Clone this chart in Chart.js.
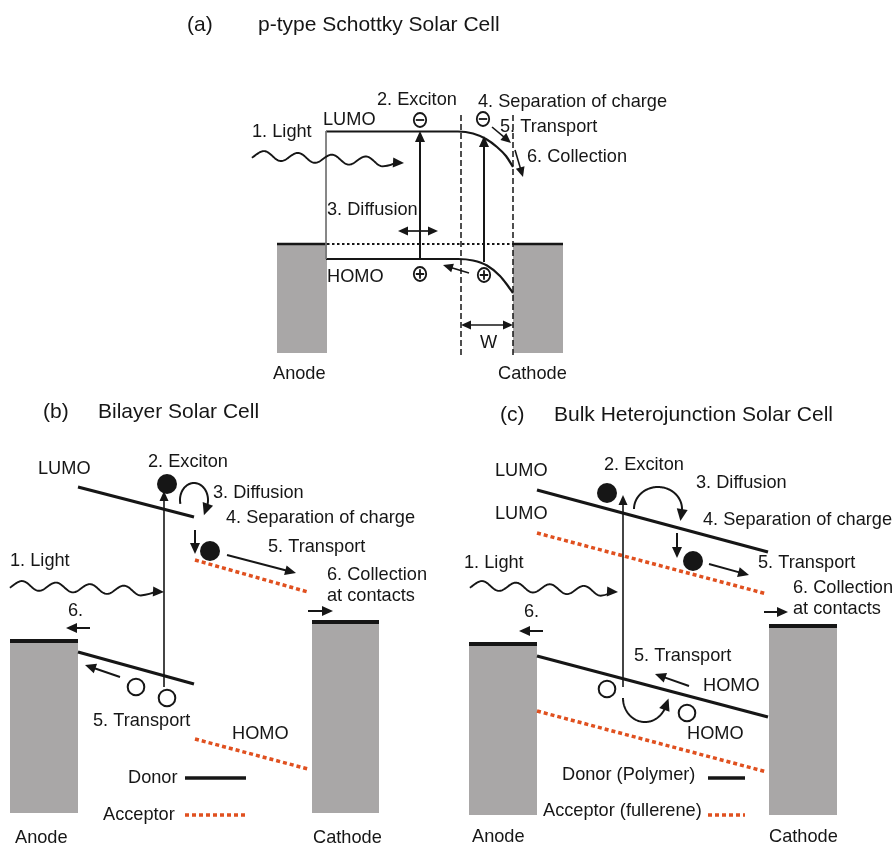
<!DOCTYPE html>
<html>
<head>
<meta charset="utf-8">
<title>Organic solar cell operating principles</title>
<script src="https://cdn.jsdelivr.net/npm/chart.js@4/dist/chart.umd.min.js"></script>
<style>
  html, body { margin: 0; padding: 0; background: #ffffff; }
  #wrap { width: 896px; height: 846px; position: relative; }
</style>
</head>
<body>
<div id="wrap"><canvas id="diagram"></canvas></div>
<script>
// ---- Scene values (diagram units, x to the right, y downwards) ----

// Panel headings: [tag, title, xTag, xTitle, y]
const panelTitles = [
  ["(a)", "p-type Schottky Solar Cell", 187, 258, 25],
  ["(b)", "Bilayer Solar Cell", 43, 98, 412],
  ["(c)", "Bulk Heterojunction Solar Cell", 500, 554, 415]
];

// Electrodes: [x0, y0, x1, y1]
const electrodes = [
  [277, 244, 327, 353], [513, 244, 563, 353],
  [10, 641, 78, 813],   [312, 622, 379, 813],
  [469, 644, 537, 815], [769, 626, 837, 815]
];
// Electrode contact surfaces: [x0, x1, y]
const contactsThin  = [[277, 327, 244], [513, 563, 244]];
const contactsThick = [[10, 78, 641], [312, 379, 622], [469, 537, 644], [769, 837, 626]];

// Schottky cell bands (a): band bending towards the cathode
const schottkyLumoX = [326, 458, 473, 486, 497, 506, 513];
const schottkyLumoY = [131.5, 131.5, 133.5, 139, 147, 156, 167];
const schottkyHomoX = [326, 458, 473, 487, 500, 508, 513];
const schottkyHomoY = [259, 259, 260.5, 265.5, 276, 286, 293];
const fermiLevel    = [327, 244, 513, 244];
const depletionEdges = [[461, 115, 461, 356], [513, 115, 513, 356]];
const bandEdgeGuide = [326, 131, 326, 259];

// Donor (solid) and acceptor (dotted) levels: [x0, y0, x1, y1]
const donorLevels = [
  [78, 487, 194, 517], [78, 652, 194, 684],
  [537, 490, 768, 552], [537, 656, 768, 717]
];
const acceptorLevels = [
  [195, 560, 308, 592], [195, 739, 308, 769],
  [537, 533, 767, 594], [537, 711, 767, 772]
];
const donorKeys    = [[185, 778, 246, 778], [708, 778, 745, 778]];
const acceptorKeys = [[185, 815, 246, 815], [708, 815, 745, 815]];

// Arrows: [xFrom, yFrom, xTo, yTo]
const arrowsBold = [
  [420, 259, 420, 131], [484, 262, 484, 136],
  [227, 555, 296, 573], [308, 611, 333, 611], [90, 628, 66, 628],
  [120, 677, 85, 665], [195, 530, 195, 554],
  [709, 564, 749, 575], [764, 612, 788, 612], [543, 631, 519, 631],
  [689, 686, 655, 674], [677, 533, 677, 558]
];
const arrowsThin = [
  [492, 127, 511, 143], [515, 150, 523, 177], [469, 273, 443, 265],
  [164, 687, 164, 491], [623, 687, 623, 495]
];
const arrowsDouble = [[398, 231, 438, 231], [461, 325, 513, 325]];

// Incoming light: [xStart, yStart, xTip, yTip]
const lightWaves = [[252, 155, 404, 163], [10, 585, 164, 592], [470, 585, 618, 592]];

// Curved transfer arrows: [cx, cy, rx, ry, startDeg, endDeg]
const hopArcs = [
  [194, 500, 14, 17, 167, 383],
  [658, 509, 24, 22, 180, 368],
  [645, 698, 22, 24, 180, 22]
];

// Charge carriers: [x, y]
const electronsFilled = [[167, 484], [210, 551], [607, 493], [693, 561]];
const holesOpen       = [[136, 687], [167, 698], [607, 689], [687, 713]];
const electronsSigned = [[420, 120], [483, 119]];
const holesSigned     = [[420, 274], [484, 275]];

// Text labels: [text, xLeft, yMiddle]
const labelsA = [
  ["LUMO", 323, 120], ["HOMO", 327, 277], ["2. Exciton", 377, 100],
  ["4. Separation of charge", 478, 102], ["5. Transport", 500, 127],
  ["6. Collection", 527, 157], ["1. Light", 252, 132], ["3. Diffusion", 327, 210],
  ["W", 480, 343], ["Anode", 273, 374], ["Cathode", 498, 374]
];
const labelsB = [
  ["LUMO", 38, 469], ["2. Exciton", 148, 462], ["3. Diffusion", 213, 493],
  ["4. Separation of charge", 226, 518], ["5. Transport", 268, 547],
  ["6. Collection", 327, 575], ["at contacts", 327, 596], ["1. Light", 10, 561],
  ["6.", 68, 611], ["5. Transport", 93, 721], ["HOMO", 232, 734],
  ["Donor", 128, 778], ["Acceptor", 103, 815], ["Anode", 15, 838], ["Cathode", 313, 838]
];
const labelsC = [
  ["LUMO", 495, 471], ["LUMO", 495, 514], ["2. Exciton", 604, 465],
  ["3. Diffusion", 696, 483], ["4. Separation of charge", 703, 520],
  ["5. Transport", 758, 563], ["6. Collection", 793, 588], ["at contacts", 793, 609],
  ["1. Light", 464, 563], ["6.", 524, 612], ["5. Transport", 634, 656],
  ["HOMO", 703, 686], ["HOMO", 687, 734], ["Donor (Polymer)", 562, 775],
  ["Acceptor (fullerene)", 543, 811], ["Anode", 472, 837], ["Cathode", 769, 837]
];

// ---- Styling ----
const INK = "#161616";
const METAL = "#a9a7a7";
const ACCEPTOR_RED = "#e0501f";
const FONT = '"Liberation Sans", Arial, Helvetica, sans-serif';
const TITLE_PX = 21;
const LABEL_PX = 18.2;

function segment(seg, color, width, dash) {
  return {
    data: [{ x: seg[0], y: seg[1] }, { x: seg[2], y: seg[3] }],
    showLine: true, borderColor: color, borderWidth: width,
    borderDash: dash || [], borderCapStyle: "butt",
    pointRadius: 0, fill: false, clip: false, tension: 0
  };
}
function curve(xs, ys, color, width) {
  return {
    data: xs.map((x, i) => ({ x: x, y: ys[i] })),
    showLine: true, borderColor: color, borderWidth: width,
    cubicInterpolationMode: "monotone", borderCapStyle: "butt",
    pointRadius: 0, fill: false, clip: false
  };
}

const datasets = [];
datasets.push(segment(bandEdgeGuide, "#777777", 1));
datasets.push(curve(schottkyLumoX, schottkyLumoY, INK, 2.2));
datasets.push(curve(schottkyHomoX, schottkyHomoY, INK, 2.2));
datasets.push(segment(fermiLevel, INK, 2.2, [2.5, 2.5]));
depletionEdges.forEach(s => datasets.push(segment(s, INK, 1.5, [6, 3])));
contactsThin.forEach(c => datasets.push(segment([c[0], c[2], c[1], c[2]], INK, 2.5)));
contactsThick.forEach(c => datasets.push(segment([c[0], c[2], c[1], c[2]], INK, 4)));
donorLevels.forEach(s => datasets.push(segment(s, INK, 3.2)));
acceptorLevels.forEach(s => datasets.push(segment(s, ACCEPTOR_RED, 3.5, [4, 3])));
donorKeys.forEach(s => datasets.push(segment(s, INK, 3.5)));
acceptorKeys.forEach(s => datasets.push(segment(s, ACCEPTOR_RED, 3.5, [4, 3])));

// Everything that is not a straight band line is drawn here, through the chart scales.
const diagramPlugin = {
  id: "diagramMarks",
  beforeDatasetsDraw(chart) {
    const { ctx, scales: { x, y } } = chart;
    ctx.save();
    ctx.fillStyle = METAL;
    electrodes.forEach(r => {
      const px0 = x.getPixelForValue(r[0]), px1 = x.getPixelForValue(r[2]);
      const py0 = y.getPixelForValue(r[1]), py1 = y.getPixelForValue(r[3]);
      ctx.fillRect(px0, py0, px1 - px0, py1 - py0);
    });
    ctx.restore();
  },
  afterDatasetsDraw(chart) {
    const { ctx, scales: { x, y } } = chart;
    const X = v => x.getPixelForValue(v);
    const Y = v => y.getPixelForValue(v);

    function head(tx, ty, dx, dy, len, half) {
      const n = Math.hypot(dx, dy) || 1;
      const ux = dx / n, uy = dy / n;
      const bx = tx - ux * len, by = ty - uy * len;
      ctx.beginPath();
      ctx.moveTo(tx, ty);
      ctx.lineTo(bx - uy * half, by + ux * half);
      ctx.lineTo(bx + uy * half, by - ux * half);
      ctx.closePath();
      ctx.fill();
    }
    function arrow(a, width, len, half, both) {
      const x0 = X(a[0]), y0 = Y(a[1]), x1 = X(a[2]), y1 = Y(a[3]);
      const n = Math.hypot(x1 - x0, y1 - y0);
      const ux = (x1 - x0) / n, uy = (y1 - y0) / n;
      ctx.lineWidth = width;
      ctx.beginPath();
      ctx.moveTo(both ? x0 + ux * (len - 1) : x0, both ? y0 + uy * (len - 1) : y0);
      ctx.lineTo(x1 - ux * (len - 1), y1 - uy * (len - 1));
      ctx.stroke();
      head(x1, y1, ux, uy, len, half);
      if (both) head(x0, y0, -ux, -uy, len, half);
    }

    ctx.save();
    ctx.strokeStyle = INK;
    ctx.fillStyle = INK;
    ctx.lineCap = "butt";
    ctx.lineJoin = "round";

    arrowsBold.forEach(a => arrow(a, 2, 11, 5, false));
    arrowsThin.forEach(a => arrow(a, 1.6, 10, 4.5, false));
    arrowsDouble.forEach(a => arrow(a, 1.7, 10, 4.6, true));

    // wavy light rays: about three and a half swings, then a short run into the arrow head
    lightWaves.forEach(w => {
      const x0 = X(w[0]), y0 = Y(w[1]), x1 = X(w[2]), y1 = Y(w[3]);
      const L = Math.hypot(x1 - x0, y1 - y0);
      const ux = (x1 - x0) / L, uy = (y1 - y0) / L;
      const period = 34, firstCrest = 12, amp = 4.5;
      const waveEnd = firstCrest + 3.5 * period;
      ctx.lineWidth = 1.9;
      ctx.beginPath();
      for (let i = 0; i <= 200; i++) {
        const s = waveEnd * i / 200;
        const off = -amp * Math.cos(2 * Math.PI * (s - firstCrest) / period);
        const px = x0 + ux * s - uy * off, py = y0 + uy * s + ux * off;
        if (i === 0) ctx.moveTo(px, py); else ctx.lineTo(px, py);
      }
      ctx.quadraticCurveTo(
        x0 + ux * (waveEnd + 10) - uy * amp * 0.6, y0 + uy * (waveEnd + 10) + ux * amp * 0.6,
        x1 - ux * 9, y1 - uy * 9);
      ctx.stroke();
      head(x1, y1, ux, uy, 11, 5);
    });

    // curved hopping arrows
    hopArcs.forEach(h => {
      const cx = X(h[0]), cy = Y(h[1]);
      const rx = X(h[0] + h[2]) - cx, ry = Y(h[1] + h[3]) - cy;
      const a0 = h[4] * Math.PI / 180, a1 = h[5] * Math.PI / 180;
      const steps = 80;
      ctx.lineWidth = 2;
      ctx.beginPath();
      let px = 0, py = 0;
      for (let i = 0; i <= steps; i++) {
        const t = a0 + (a1 - a0) * i / steps;
        px = cx + rx * Math.cos(t); py = cy + ry * Math.sin(t);
        if (i === 0) ctx.moveTo(px, py); else ctx.lineTo(px, py);
      }
      ctx.stroke();
      const sgn = a1 > a0 ? 1 : -1;
      const dx = -rx * Math.sin(a1) * sgn, dy = ry * Math.cos(a1) * sgn;
      const n = Math.hypot(dx, dy);
      head(px + dx / n * 9, py + dy / n * 9, dx, dy, 12, 5.5);
    });

    // carriers
    electronsFilled.forEach(p => {
      ctx.beginPath(); ctx.arc(X(p[0]), Y(p[1]), 10, 0, 2 * Math.PI); ctx.fill();
    });
    ctx.lineWidth = 2;
    holesOpen.forEach(p => {
      ctx.beginPath(); ctx.arc(X(p[0]), Y(p[1]), 8.3, 0, 2 * Math.PI); ctx.stroke();
    });
    ctx.lineWidth = 1.8;
    electronsSigned.concat(holesSigned).forEach((p, i) => {
      const cx = X(p[0]), cy = Y(p[1]);
      ctx.beginPath(); ctx.ellipse(cx, cy, 6.2, 7, 0, 0, 2 * Math.PI); ctx.stroke();
      ctx.beginPath();
      ctx.moveTo(cx - 4.2, cy); ctx.lineTo(cx + 4.2, cy);
      if (i >= electronsSigned.length) { ctx.moveTo(cx, cy - 4.8); ctx.lineTo(cx, cy + 4.8); }
      ctx.stroke();
    });

    // text
    ctx.textBaseline = "middle";
    ctx.textAlign = "left";
    ctx.font = TITLE_PX + "px " + FONT;
    panelTitles.forEach(t => {
      ctx.fillText(t[0], X(t[2]), Y(t[4]));
      ctx.fillText(t[1], X(t[3]), Y(t[4]));
    });
    ctx.font = LABEL_PX + "px " + FONT;
    labelsA.concat(labelsB, labelsC).forEach(l => ctx.fillText(l[0], X(l[1]), Y(l[2])));
    ctx.restore();
  }
};

new Chart(document.getElementById("diagram"), {
  type: "scatter",
  data: { datasets: datasets },
  options: {
    responsive: true,
    maintainAspectRatio: false,
    animation: false,
    events: [],
    layout: { padding: 0 },
    scales: {
      x: { type: "linear", min: 0, max: 896, display: false },
      y: { type: "linear", min: 0, max: 846, reverse: true, display: false }
    },
    plugins: { legend: { display: false }, tooltip: { enabled: false } },
    elements: { point: { radius: 0, hoverRadius: 0 } }
  },
  plugins: [diagramPlugin]
});
</script>
</body>
</html>
